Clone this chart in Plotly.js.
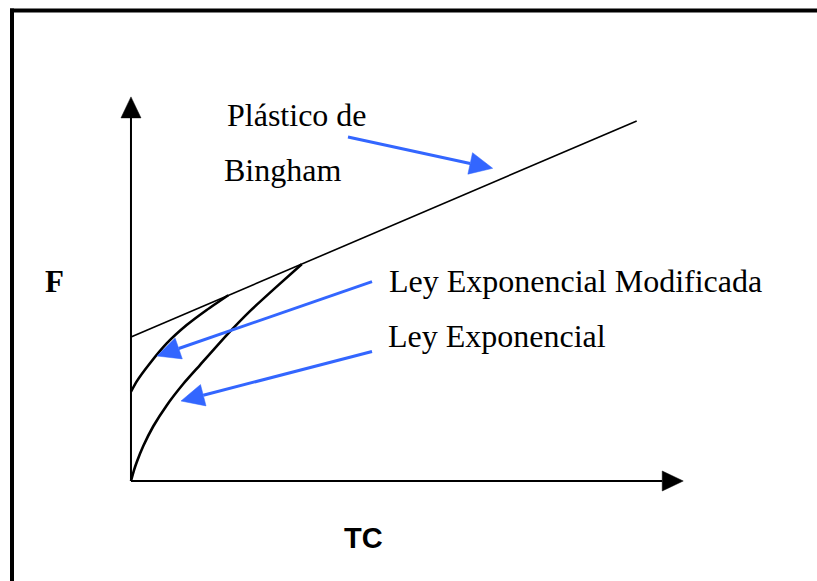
<!DOCTYPE html>
<html>
<head>
<meta charset="utf-8">
<script src="https://cdn.plot.ly/plotly-3.0.1.min.js"></script>
<style>html,body{margin:0;padding:0;background:#fff;overflow:hidden;}#chart{width:817px;height:581px;}</style>
</head>
<body>
<div id="chart"></div>
<script>
// ---- data (schematic units: TC on x, F on y) ----
var binghamX = [0, 10];
var binghamY = [4, 10];

var modExpX = [0, 0.12, 0.376, 0.706, 1.101, 1.497, 1.924];
var modExpY = [2.48, 2.78, 3.27, 3.82, 4.33, 4.75, 5.16];

var expX = [0, 0.06, 0.113, 0.243, 0.441, 0.706, 1.036, 1.364, 1.924, 2.353, 2.881, 3.376];
var expY = [0, 0.30, 0.52, 0.97, 1.52, 2.10, 2.70, 3.22, 4.10, 4.72, 5.40, 6.02];

// axis arrows: [tail, tip]
var yAxisArrow = [[0, 0], [0, 10.67]];
var xAxisArrow = [[0, 0], [10.92, 0]];

// blue pointer arrows: [tail, tip]
var pointerArrows = [
  [[4.291, 9.556], [7.152, 8.686]],
  [[4.766, 5.536], [0.514, 3.472]],
  [[4.766, 3.597], [0.989, 2.222]]
];

// labels
var labelTexts = ["Plástico de", "Bingham", "Ley Exponencial Modificada", "Ley Exponencial"];
var labelX = [1.859, 1.794, 5.056, 5.043];
var labelY = [10.17, 8.64, 5.56, 4.03];
var yAxisLabel = {text: "F", x: -1.74, y: 5.54};
var xAxisLabel = {text: "TC", x: 4.17, y: -1.58};

// ---- layout geometry ----
var W = 817, H = 581;
var xRange = [-2.590, 13.565];
var yRange = [-2.778, 13.361];
var sx = W / (xRange[1] - xRange[0]);
var sy = H / (yRange[1] - yRange[0]);
// frame left edge (px 12) and top edge (px 10.5) in data units
var frameX = xRange[0] + 12 / sx;
var frameTop = yRange[1] - 8.5 / sy;

function head(tail, tip, len, halfw) {
  var dx = (tip[0] - tail[0]) * sx, dy = (tip[1] - tail[1]) * sy;
  var L = Math.sqrt(dx * dx + dy * dy);
  var ux = dx / L, uy = dy / L;
  var bx = tip[0] * sx - ux * len, by = tip[1] * sy - uy * len;
  var px = -uy, py = ux;
  var p1 = [(bx + px * halfw) / sx, (by + py * halfw) / sy];
  var p2 = [(bx - px * halfw) / sx, (by - py * halfw) / sy];
  var base = [bx / sx, by / sy];
  return {tri: [p1, tip, p2, p1], base: base};
}

var traces = [];
// frame left edge
traces.push({x: [frameX, frameX], y: [frameTop, yRange[0] - 1], mode: 'lines',
  line: {color: '#000', width: 4}, hoverinfo: 'skip'});

function addArrow(a, color, width, len, halfw) {
  var h = head(a[0], a[1], len, halfw);
  traces.push({x: [a[0][0], h.base[0]], y: [a[0][1], h.base[1]], mode: 'lines',
    line: {color: color, width: width}, hoverinfo: 'skip'});
  traces.push({x: h.tri.map(function(p){return p[0];}), y: h.tri.map(function(p){return p[1];}),
    mode: 'lines', fill: 'toself', fillcolor: color, line: {color: color, width: 0.5}, hoverinfo: 'skip'});
}

addArrow(yAxisArrow, '#000000', 2, 21, 10);
addArrow(xAxisArrow, '#000000', 2, 21, 10);

traces.push({x: binghamX, y: binghamY, mode: 'lines', line: {color: '#000', width: 1.6}, hoverinfo: 'skip'});
traces.push({x: modExpX, y: modExpY, mode: 'lines', line: {color: '#000', width: 2.6, shape: 'spline', smoothing: 0.6}, hoverinfo: 'skip'});
traces.push({x: expX, y: expY, mode: 'lines', line: {color: '#000', width: 2.6, shape: 'spline', smoothing: 0.6}, hoverinfo: 'skip'});

pointerArrows.forEach(function(a){ addArrow(a, '#3366ff', 3, 23, 11); });

var annotations = labelTexts.map(function(t, i){
  return {text: t, x: labelX[i], y: labelY[i], xref: 'x', yref: 'y', showarrow: false,
    xanchor: 'left', yanchor: 'middle',
    font: {family: 'Liberation Serif, Times New Roman, serif', size: 32, color: '#000'}};
});
annotations.push({text: '<b>' + yAxisLabel.text + '</b>', x: yAxisLabel.x, y: yAxisLabel.y, xref: 'x', yref: 'y',
  showarrow: false, xanchor: 'left', yanchor: 'middle',
  font: {family: 'Liberation Serif, Times New Roman, serif', size: 31, color: '#000'}});
annotations.push({text: '<b>' + xAxisLabel.text + '</b>', x: xAxisLabel.x, y: xAxisLabel.y, xref: 'x', yref: 'y',
  showarrow: false, xanchor: 'left', yanchor: 'middle',
  font: {family: 'Liberation Sans, Arial, sans-serif', size: 29, color: '#000'}});

var layout = {
  width: W, height: H,
  margin: {l: 0, r: 0, t: 0, b: 0, pad: 0},
  paper_bgcolor: '#fff', plot_bgcolor: '#fff',
  showlegend: false,
  xaxis: {range: xRange, visible: false, fixedrange: true},
  yaxis: {range: yRange, visible: false, fixedrange: true},
  annotations: annotations,
  shapes: [
    {type: 'line', xref: 'paper', yref: 'paper', x0: 10 / W, x1: 1, y0: 1 - 10.5 / H, y1: 1 - 10.5 / H,
      line: {color: '#000', width: 4}}
  ]
};

Plotly.newPlot('chart', traces, layout, {displayModeBar: false, staticPlot: true});
</script>
</body>
</html>
